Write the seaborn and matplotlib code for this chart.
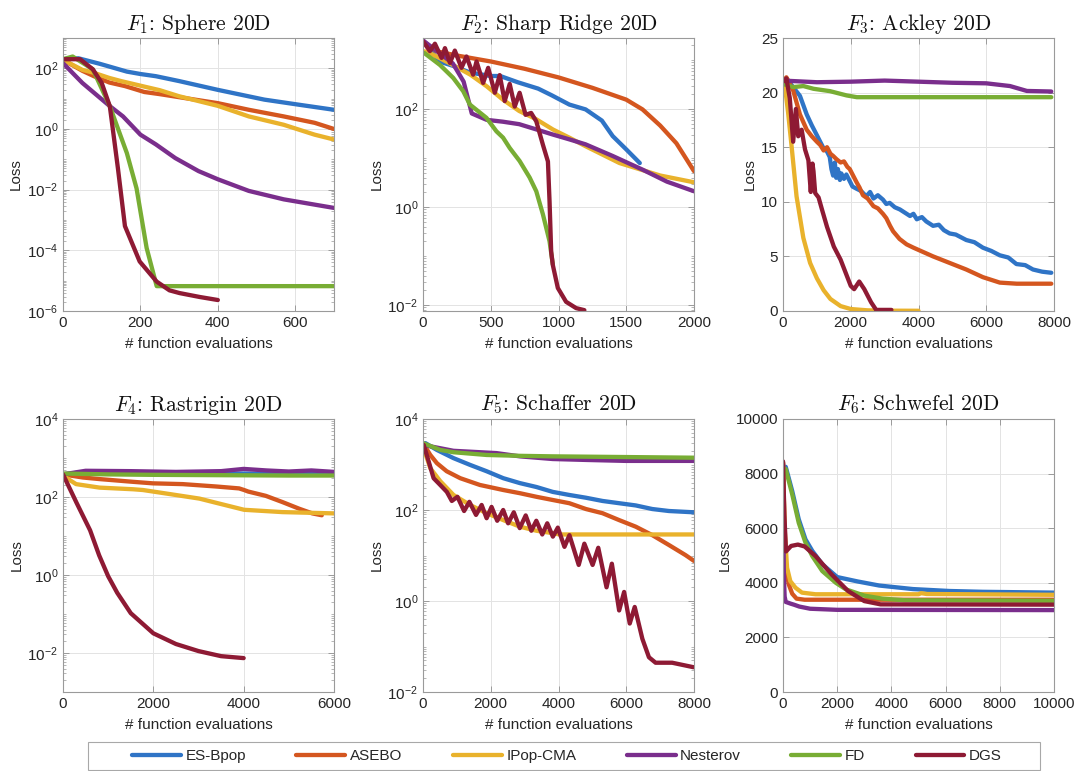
import numpy as np
import pandas as pd
import matplotlib
matplotlib.use("Agg")
import matplotlib.pyplot as plt
import seaborn as sns
from matplotlib.ticker import LogLocator, NullFormatter, LogFormatterSciNotation
from matplotlib.lines import Line2D
from matplotlib.patches import Rectangle

methods = ["ES-Bpop", "ASEBO", "IPop-CMA", "Nesterov", "FD", "DGS"]
colors = ["#2f74c6", "#d4561f", "#e9b22c", "#7a2e8c", "#78ad34", "#8e1a34"]

# ---------------- F1: Sphere ----------------
f1_es_x = [0, 40, 95, 165, 200, 240, 300, 400, 520, 610, 700]
f1_es_y = [200, 214, 141, 78, 65, 55, 38, 19.5, 9.3, 6.3, 4.3]
f1_asebo_x = [0, 50, 80, 120, 160, 210, 250, 300, 400, 480, 570, 650, 700]
f1_asebo_y = [190, 83, 55, 34, 26, 16.6, 14.1, 11.2, 7.1, 4.3, 2.6, 1.6, 1.0]
f1_ipop_x = [0, 50, 80, 120, 150, 210, 250, 300, 400, 480, 570, 650, 700]
f1_ipop_y = [190, 89, 71, 48, 38, 25, 19, 12, 5.8, 2.6, 1.38, 0.65, 0.45]
f1_nest_x = [0, 50, 120, 155, 200, 240, 290, 350, 400, 480, 570, 700]
f1_nest_y = [148, 33, 5.8, 2.6, 0.65, 0.31, 0.11, 0.041, 0.022, 0.0091, 0.0048, 0.0025]
f1_fd_x = [0, 25, 77, 121, 165, 190, 216, 242, 700]
f1_fd_y = [200, 245, 93, 5.6, 0.16, 0.011, 1.2e-4, 6.6e-6, 6.6e-6]
f1_dgs_x = [0, 44, 77, 100, 121, 142, 160, 198, 242, 275, 301, 353, 400]
f1_dgs_y = [200, 200, 93, 33, 5.6, 0.049, 6.3e-4, 4.3e-5, 9.3e-6, 4.8e-6, 3.9e-6, 2.9e-6, 2.3e-6]

# ---------------- F2: Sharp Ridge ----------------
f2_es_x = [0, 120, 220, 350, 500, 570, 700, 850, 950, 1080, 1200, 1320, 1400, 1500, 1600]
f2_es_y = [2500, 930, 760, 550, 470, 470, 350, 260, 190, 123, 98, 58, 28, 15, 7.9]
f2_asebo_x = [0, 100, 250, 500, 750, 1000, 1250, 1500, 1620, 1750, 1870, 2000]
f2_asebo_y = [2400, 1500, 1230, 930, 660, 440, 270, 155, 98, 46, 20, 5.4]
f2_ipop_x = [10, 50, 220, 350, 470, 590, 710, 830, 960, 1080, 1200, 1450, 1750, 2000]
f2_ipop_y = [1500, 1380, 790, 500, 290, 155, 91, 63, 38, 26, 17.4, 7.9, 4.4, 3.2]
f2_nest_x = [0, 220, 300, 360, 470, 590, 710, 840, 960, 1080, 1200, 1400, 1620, 1800, 2000]
f2_nest_y = [2500, 850, 360, 81, 60, 55, 49, 38, 30, 24, 19, 11, 5.8, 3.3, 2.1]
f2_fd_x = [10, 125, 223, 297, 346, 468, 542, 591, 640, 713, 787, 836, 885, 934, 958]
f2_fd_y = [1380, 790, 430, 230, 123, 66, 35, 26, 16, 8.7, 4.0, 2.1, 0.71, 0.2, 0.068]
f2_dgs_x = [0, 51, 88, 137, 162, 199, 235, 284, 321, 370, 395, 444, 481, 530, 566, 603,
            640, 677, 713, 757, 798, 836, 885, 922, 934, 946, 958, 995, 1056, 1130, 1191]
f2_dgs_y = [2400, 1510, 2140, 1100, 1740, 870, 1550, 690, 1175, 500, 930, 340, 690, 214, 490, 145,
            324, 112, 214, 76, 83, 56, 18.6, 8.5, 1.29, 0.123, 0.066, 0.0224, 0.0117, 0.0087, 0.0079]

# ---------------- F3: Ackley ----------------
f3_es_x = [0, 100, 300, 500, 700, 850, 1000, 1180, 1300, 1380, 1430, 1480, 1530, 1570, 1620, 1680,
           1720, 1800, 1870, 1970, 2050, 2170, 2300, 2460, 2570, 2670, 2800, 2950, 3050, 3150, 3300,
           3450, 3600, 3750, 3850, 3950, 4100, 4230, 4430, 4600, 4750, 4920, 5100, 5410, 5650, 5900,
           6150, 6400, 6650, 6890, 7150, 7380, 7650, 7920]
f3_es_y = [21.0, 21.3, 20.5, 19.7, 18.0, 17.0, 16.1, 15.0, 14.6, 14.1, 13.0, 12.4, 13.6, 12.2, 13.0, 12.0,
           12.6, 12.1, 12.5, 11.9, 11.4, 11.2, 11.0, 10.5, 10.9, 10.3, 10.6, 10.2, 9.8, 9.9, 9.5,
           9.3, 9.0, 8.7, 8.9, 8.4, 8.6, 8.2, 7.8, 7.9, 7.4, 7.1, 7.0, 6.5, 6.3, 5.8,
           5.5, 5.1, 4.9, 4.3, 4.2, 3.8, 3.6, 3.5]
f3_asebo_x = [0, 100, 300, 500, 700, 850, 1000, 1100, 1200, 1300, 1400, 1480, 1580, 1700, 1800,
              1900, 1970, 2070, 2170, 2260, 2360, 2500, 2670, 2800, 2950, 3050, 3160, 3250, 3440,
              3650, 3850, 4430, 4920, 5410, 5900, 6400, 6900, 7920]
f3_asebo_y = [21.0, 21.4, 20.2, 18.0, 16.6, 16.0, 15.5, 15.2, 14.7, 15.0, 14.4, 14.2, 13.9, 13.6, 13.7,
              13.2, 13.0, 12.4, 11.8, 11.3, 10.6, 10.3, 9.6, 9.4, 8.9, 8.5, 7.8, 7.3, 6.6,
              6.1, 5.8, 5.0, 4.4, 3.8, 3.1, 2.6, 2.5, 2.5]
f3_ipop_x = [0, 60, 150, 250, 400, 600, 800, 1000, 1200, 1400, 1700, 2000, 2500, 3000, 4000]
f3_ipop_y = [21.0, 20.5, 18.2, 15.2, 10.5, 6.7, 4.4, 3.0, 1.9, 1.1, 0.45, 0.18, 0.06, 0.03, 0.02]
f3_nest_x = [0, 1000, 2000, 3000, 4000, 5000, 6000, 6700, 7200, 7920]
f3_nest_y = [21.1, 20.95, 21.0, 21.1, 21.0, 20.9, 20.85, 20.6, 20.15, 20.1]
f3_fd_x = [0, 300, 600, 900, 1390, 1880, 2180, 7920]
f3_fd_y = [20.8, 20.5, 20.6, 20.35, 20.13, 19.74, 19.58, 19.58]
f3_dgs_x = [0, 100, 200, 300, 380, 450, 550, 650, 750, 820, 870, 900, 950, 1050, 1150, 1300, 1500,
            1700, 1850, 2000, 2100, 2250, 2400, 2600, 2750, 3200]
f3_dgs_y = [21.0, 21.3, 19.5, 15.5, 18.5, 16.0, 16.6, 14.8, 13.8, 10.9, 13.5, 12.8, 10.8, 10.4, 9.3, 7.7, 5.9,
            4.7, 3.5, 2.3, 2.0, 2.7, 2.0, 0.8, 0.1, 0.1]

# ---------------- F4: Rastrigin ----------------
f4_es_x = [0, 500, 2000, 4000, 6000]
f4_es_y = [380, 440, 420, 400, 390]
f4_asebo_x = [0, 440, 810, 1550, 1990, 2650, 3390, 3900, 4010, 4100, 4490, 4860, 5230, 5520, 5730]
f4_asebo_y = [380, 316, 288, 245, 224, 214, 186, 166, 151, 138, 107, 74, 50, 38, 34]
f4_ipop_x = [0, 290, 810, 1550, 1770, 2280, 3020, 3390, 4010, 4860, 6000]
f4_ipop_y = [350, 214, 174, 158, 151, 123, 91, 71, 47, 41, 38]
f4_nest_x = [0, 500, 1500, 2500, 3500, 4000, 4500, 5000, 5500, 6000]
f4_nest_y = [380, 470, 460, 440, 460, 525, 480, 450, 480, 440]
f4_fd_x = [0, 1000, 2000, 3000, 4000, 5000, 6000]
f4_fd_y = [400, 380, 370, 365, 360, 355, 355]
f4_dgs_x = [0, 300, 600, 800, 1000, 1200, 1500, 2000, 2500, 3000, 3500, 4000]
f4_dgs_y = [380, 71, 14, 3.2, 0.93, 0.35, 0.105, 0.032, 0.017, 0.0112, 0.0083, 0.0074]

# ---------------- F5: Schaffer ----------------
f5_es_x = [70, 410, 900, 1390, 1880, 2370, 2860, 3350, 3830, 4320, 4810, 5300, 5790, 6280, 6770, 7260, 8000]
f5_es_y = [2950, 2090, 1380, 980, 710, 500, 390, 320, 250, 214, 186, 158, 141, 126, 105, 95, 89]
f5_asebo_x = [0, 215, 410, 700, 1100, 1680, 2370, 2860, 3350, 3830, 4320, 4810, 5300, 5790, 6280,
              6770, 7260, 7750, 8000]
f5_asebo_y = [2950, 1620, 1070, 710, 500, 355, 275, 234, 195, 166, 141, 105, 85, 60, 43, 28, 17, 10.2, 7.6]
f5_ipop_x = [0, 215, 510, 900, 1390, 1880, 2370, 2860, 3350, 3830, 4030, 8000]
f5_ipop_y = [2500, 830, 430, 214, 129, 85, 60, 43, 35, 31, 29, 29]
f5_nest_x = [0, 900, 2170, 2860, 3830, 4810, 5990, 8000]
f5_nest_y = [2700, 2000, 1780, 1510, 1320, 1260, 1200, 1200]
f5_fd_x = [0, 510, 900, 1880, 2860, 3830, 8000]
f5_fd_y = [2950, 2090, 1860, 1620, 1550, 1510, 1410]
f5_dgs_x = [20, 166, 313, 508, 704, 851, 1017, 1213, 1369, 1565, 1731, 1878, 2024, 2191, 2367, 2513,
            2680, 2856, 3032, 3198, 3345, 3521, 3668, 3834, 3980, 4176, 4323, 4597, 4763, 5007, 5174,
            5418, 5575, 5790, 5937, 6103, 6250, 6475, 6670, 6866, 7355, 7990]
f5_dgs_y = [2700, 1175, 500, 355, 250, 158, 195, 95, 151, 78, 129, 66, 117, 58, 100, 51,
            89, 40, 76, 35, 58, 29, 51, 26, 41, 15.5, 28, 6.2, 18.2, 6.2, 14.8,
            2.0, 6.6, 0.62, 1.58, 0.32, 0.74, 0.148, 0.058, 0.044, 0.044, 0.035]

# ---------------- F6: Schwefel ----------------
f6_es_x = [100, 340, 580, 830, 1080, 1450, 2000, 2750, 3550, 4800, 6140, 7370, 10000]
f6_es_y = [8250, 7360, 6330, 5590, 5170, 4680, 4210, 4050, 3900, 3770, 3700, 3670, 3640]
f6_asebo_x = [0, 50, 110, 210, 340, 500, 800, 10000]
f6_asebo_y = [8400, 6200, 4550, 3950, 3600, 3420, 3380, 3380]
f6_ipop_x = [0, 60, 150, 270, 460, 700, 1200, 5000, 5100, 5300, 10000]
f6_ipop_y = [8400, 6000, 4550, 4060, 3820, 3640, 3580, 3580, 3620, 3590, 3560]
f6_nest_x = [0, 30, 60, 100, 300, 400, 600, 1000, 2000, 10000]
f6_nest_y = [8400, 4300, 3500, 3300, 3230, 3200, 3130, 3050, 3010, 3000]
f6_fd_x = [100, 340, 580, 830, 1080, 1450, 1950, 2320, 3000, 3670, 4500, 10000]
f6_fd_y = [8170, 7240, 6200, 5470, 4980, 4430, 4000, 3760, 3530, 3420, 3360, 3340]
f6_dgs_x = [0, 50, 110, 300, 550, 800, 1200, 1800, 2400, 3000, 3600, 10000]
f6_dgs_y = [8450, 6500, 5150, 5350, 5400, 5330, 4980, 4300, 3700, 3330, 3210, 3200]

titles = [r"$F_{1}$: Sphere 20D", r"$F_{2}$: Sharp Ridge 20D", r"$F_{3}$: Ackley 20D",
          r"$F_{4}$: Rastrigin 20D", r"$F_{5}$: Schaffer 20D", r"$F_{6}$: Schwefel 20D"]

panels = [
    ([f1_es_x, f1_asebo_x, f1_ipop_x, f1_nest_x, f1_fd_x, f1_dgs_x],
     [f1_es_y, f1_asebo_y, f1_ipop_y, f1_nest_y, f1_fd_y, f1_dgs_y]),
    ([f2_es_x, f2_asebo_x, f2_ipop_x, f2_nest_x, f2_fd_x, f2_dgs_x],
     [f2_es_y, f2_asebo_y, f2_ipop_y, f2_nest_y, f2_fd_y, f2_dgs_y]),
    ([f3_es_x, f3_asebo_x, f3_ipop_x, f3_nest_x, f3_fd_x, f3_dgs_x],
     [f3_es_y, f3_asebo_y, f3_ipop_y, f3_nest_y, f3_fd_y, f3_dgs_y]),
    ([f4_es_x, f4_asebo_x, f4_ipop_x, f4_nest_x, f4_fd_x, f4_dgs_x],
     [f4_es_y, f4_asebo_y, f4_ipop_y, f4_nest_y, f4_fd_y, f4_dgs_y]),
    ([f5_es_x, f5_asebo_x, f5_ipop_x, f5_nest_x, f5_fd_x, f5_dgs_x],
     [f5_es_y, f5_asebo_y, f5_ipop_y, f5_nest_y, f5_fd_y, f5_dgs_y]),
    ([f6_es_x, f6_asebo_x, f6_ipop_x, f6_nest_x, f6_fd_x, f6_dgs_x],
     [f6_es_y, f6_asebo_y, f6_ipop_y, f6_nest_y, f6_fd_y, f6_dgs_y]),
]

# axis settings per panel: (log?, xlim, xticks, ylim, yticks)
settings = [
    (True, (0, 700), [0, 200, 400, 600], (1e-6, 1e3), [1e-6, 1e-4, 1e-2, 1e0, 1e2]),
    (True, (0, 2000), [0, 500, 1000, 1500, 2000], (7.6e-3, 2.8e3), [1e-2, 1e0, 1e2]),
    (False, (0, 8000), [0, 2000, 4000, 6000, 8000], (0, 25), [0, 5, 10, 15, 20, 25]),
    (True, (0, 6000), [0, 2000, 4000, 6000], (1e-3, 1e4), [1e-2, 1e0, 1e2, 1e4]),
    (True, (0, 8000), [0, 2000, 4000, 6000, 8000], (1e-2, 1e4), [1e-2, 1e0, 1e2, 1e4]),
    (False, (0, 10000), [0, 2000, 4000, 6000, 8000, 10000], (0, 10000), [0, 2000, 4000, 6000, 8000, 10000]),
]

sns.set_theme(style="ticks")
plt.rcParams["font.family"] = ["Liberation Sans", "DejaVu Sans"]
plt.rcParams["axes.unicode_minus"] = True

W, H = 1076, 771
fig = plt.figure(figsize=(W / 100, H / 100), dpi=100)

col_left = [63, 423, 783]
row_top = [38, 419]
ax_w, ax_h = 271, 273
spine_c = "#9a9a9a"
lw = 3.1

for i, ((xs, ys), title, (is_log, xlim, xticks, ylim, yticks)) in enumerate(zip(panels, titles, settings)):
    r, c = divmod(i, 3)
    ax = fig.add_axes([col_left[c] / W, 1 - (row_top[r] + ax_h) / H, ax_w / W, ax_h / H])

    df = pd.concat([pd.DataFrame({"evals": x, "loss": y, "method": m})
                    for m, x, y in zip(methods, xs, ys)], ignore_index=True)
    sns.lineplot(data=df, x="evals", y="loss", hue="method", hue_order=methods,
                 palette=colors, estimator=None, sort=False, lw=lw, legend=False, ax=ax)

    if is_log:
        ax.set_yscale("log")
        ax.yaxis.set_minor_locator(LogLocator(base=10, subs=np.arange(1, 10), numticks=50))
        ax.yaxis.set_minor_formatter(NullFormatter())
    ax.set_xlim(*xlim)
    ax.set_ylim(*ylim)
    ax.set_xticks(xticks)
    ax.set_yticks(yticks)
    if is_log:
        ax.yaxis.set_major_formatter(LogFormatterSciNotation())

    ax.grid(True, which="major", color="#e3e3e3", lw=0.7)
    ax.set_axisbelow(True)
    for s in ax.spines.values():
        s.set_color(spine_c)
        s.set_linewidth(0.8)
    ax.tick_params(which="both", direction="in", top=True, right=True, color=spine_c,
                   labelsize=11, labelcolor="#262626")
    ax.tick_params(which="major", length=4, width=0.7)
    ax.tick_params(which="minor", length=2, width=0.5)

    ax.set_xlabel("# function evaluations", fontsize=11, color="#262626", labelpad=5)
    ax.set_ylabel("Loss", fontsize=11, color="#262626", labelpad=3)
    ax.set_title(title, fontsize=15.5, fontfamily="cmr10", math_fontfamily="cm", pad=6, color="#111111")

# legend: frameless entries centred over a drawn box
fig.patches.append(Rectangle((88 / W, 1 / H), 952 / W, 28 / H, transform=fig.transFigure,
                             facecolor="white", edgecolor="#a8a8a8", lw=0.8, zorder=0))
handles = [Line2D([], [], color=col, lw=lw) for col in colors]
fig.legend(handles, methods, loc="center", bbox_to_anchor=(567 / W, 1 - 756 / H),
           ncol=6, frameon=False, handlelength=3.2, handletextpad=0.3,
           columnspacing=3.3, fontsize=11)

fig.savefig("out.png", dpi=100)
